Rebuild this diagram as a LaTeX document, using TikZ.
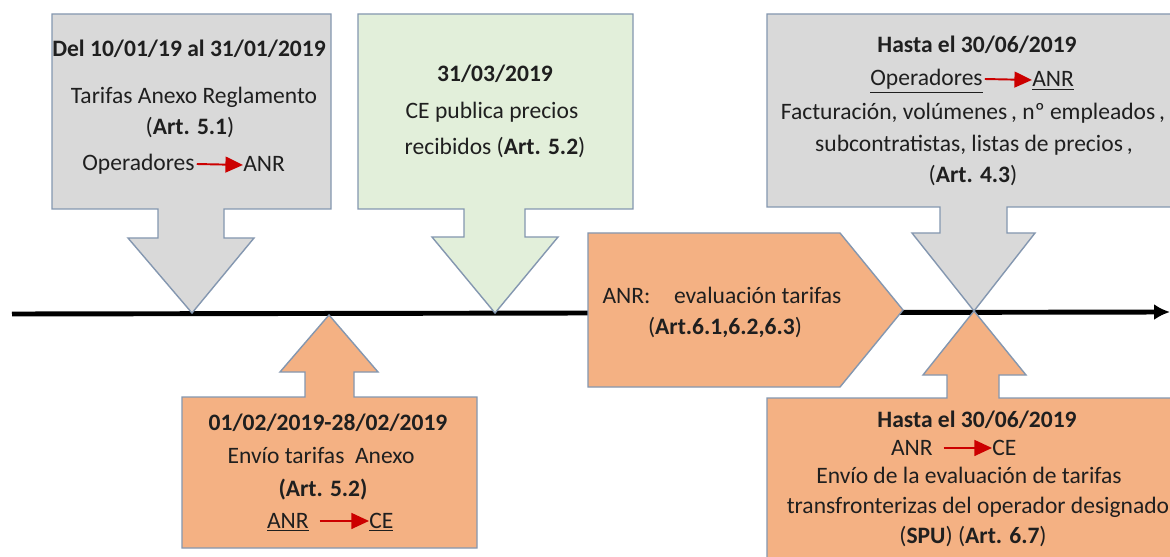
\documentclass[tikz,border=0pt]{standalone}
\usepackage{fontspec}
\setmainfont{Carlito}
\usetikzlibrary{arrows.meta,positioning}
\definecolor{grisfondo}{RGB}{217,217,217}
\definecolor{verdefondo}{RGB}{226,239,218}
\definecolor{naranjafondo}{RGB}{244,177,131}
\definecolor{bordeazul}{RGB}{132,151,176}
\definecolor{rojoflecha}{RGB}{204,0,0}

\begin{document}
\begin{tikzpicture}[x=0.02cm, y=-0.02cm,
    caja/.style={draw=bordeazul, line width=0.8pt, line join=miter},
    texto/.style={inner sep=0pt, anchor=base, text=black!88, font=\fontsize{13.4}{16}\selectfont},
    flechita/.style={rojoflecha, line width=1.1pt, shorten <=1pt, -{Triangle[length=10pt,width=9pt]}}]
    \clip (0,0) rectangle (1170,557);
    \fill[white] (0,0) rectangle (1170,557);

    % linea de tiempo
    \draw [line width=2.8pt, -{Latex[length=9pt,width=9pt]}] (12,314) -- (1170,312);

    % llamadas de arriba
    \draw [caja, fill=grisfondo] (52,14) -- (331,14) -- (331,209) -- (224,209) -- (224,238) -- (254,238)
        -- (192,313) -- (128,238) -- (158,238) -- (158,209) -- (52,209) -- cycle;
    \draw [caja, fill=verdefondo] (358,14) -- (633,14) -- (633,209) -- (525,209) -- (525,237) -- (558,237)
        -- (495,313) -- (432,237) -- (464,237) -- (464,209) -- (358,209) -- cycle;
    \draw [caja, fill=grisfondo] (767,14) -- (1190,14) -- (1190,207) -- (1007,207) -- (1007,233) -- (1035,233)
        -- (974,311) -- (912,233) -- (940,233) -- (940,207) -- (767,207) -- cycle;

    % llamadas de abajo
    \draw [caja, fill=naranjafondo] (182,548) -- (477,548) -- (477,397) -- (354,397) -- (354,372) -- (378,372)
        -- (329,315) -- (280,372) -- (305,372) -- (305,397) -- (182,397) -- cycle;
    \draw [caja, fill=naranjafondo] (767,580) -- (1190,580) -- (1190,398) -- (999,398) -- (999,375) -- (1026,375)
        -- (974,311) -- (923,375) -- (947,375) -- (947,398) -- (767,398) -- cycle;

    % pentagono
    \draw [caja, fill=naranjafondo] (588,233) -- (840,233) -- (903,310) -- (840,387) -- (588,387) -- cycle;

    % textos caja 1
    \node [texto] (fecha1) at (189,57) {\textbf{Del 10/01/19 al 31/01/2019}};
    \node [texto] (tarifas1) at (194,104) {Tarifas Anexo Reglamento};
    \node [texto] (art51) at (190,135) {(\textbf{Art. 5.1})};
    \node [texto, anchor=base east] (op1) at (195,171) {Operadores};
    \node [texto, anchor=base west] (anr1) at (243,172) {ANR};
    \draw [flechita] ([yshift=4pt]op1.base east) -- ([yshift=4pt]anr1.base west);

    % textos caja 2
    \node [texto] (fecha2) at (495,82) {\textbf{31/03/2019}};
    \node [texto] (publica) at (492,119) {CE publica precios};
    \node [texto] (recibidos) at (495,155) {recibidos (\textbf{Art. 5.2})};

    % textos caja 3
    \node [texto] (fecha3) at (977,53) {\textbf{Hasta el 30/06/2019}};
    \node [texto, anchor=base east] (op3) at (983,86) {\underline{Operadores}};
    \node [texto, anchor=base west] (anr3) at (1032,87) {\underline{ANR}};
    \draw [flechita] ([yshift=4pt]op3.base east) -- ([yshift=4pt]anr3.base west);
    \node [texto] (factura) at (973,120) {Facturación, volúmenes\,, nº empleados\,,};
    \node [texto] (subcon) at (974,152) {subcontratistas, listas de precios\,,};
    \node [texto] (art43) at (973,183) {(\textbf{Art. 4.3})};

    % textos pentagono
    \node [texto] (evalua) at (722,303) {ANR:\quad evaluación tarifas};
    \node [texto] (art61) at (725,335) {(\textbf{Art.6.1,6.2,6.3})};

    % textos caja 4
    \node [texto] (fecha4) at (328,430) {\textbf{01/02/2019-28/02/2019}};
    \node [texto] (envio4) at (321,463) {Envío tarifas\ \ Anexo};
    \node [texto] (art52) at (323,496) {\textbf{(Art. 5.2)}};
    \node [texto, anchor=base east] (anr4) at (309,528) {\underline{ANR}};
    \node [texto, anchor=base west] (ce4) at (369,528) {\underline{CE}};
    \draw [flechita] ([yshift=4pt,xshift=5pt]anr4.base east) -- ([yshift=4pt]ce4.base west);

    % textos caja 5
    \node [texto] (fecha5) at (977,427) {\textbf{Hasta el 30/06/2019}};
    \node [texto, anchor=base east] (anr5) at (933,455) {ANR};
    \node [texto, anchor=base west] (ce5) at (992,455) {CE};
    \draw [flechita] ([yshift=4pt,xshift=5pt]anr5.base east) -- ([yshift=4pt]ce5.base west);
    \node [texto] (envio5) at (969,483) {Envío de la evaluación de tarifas};
    \node [texto] (transf) at (978,513) {transfronterizas del operador designado};
    \node [texto] (art67) at (973,543) {(\textbf{SPU}) (\textbf{Art. 6.7})};
\end{tikzpicture}
\end{document}
